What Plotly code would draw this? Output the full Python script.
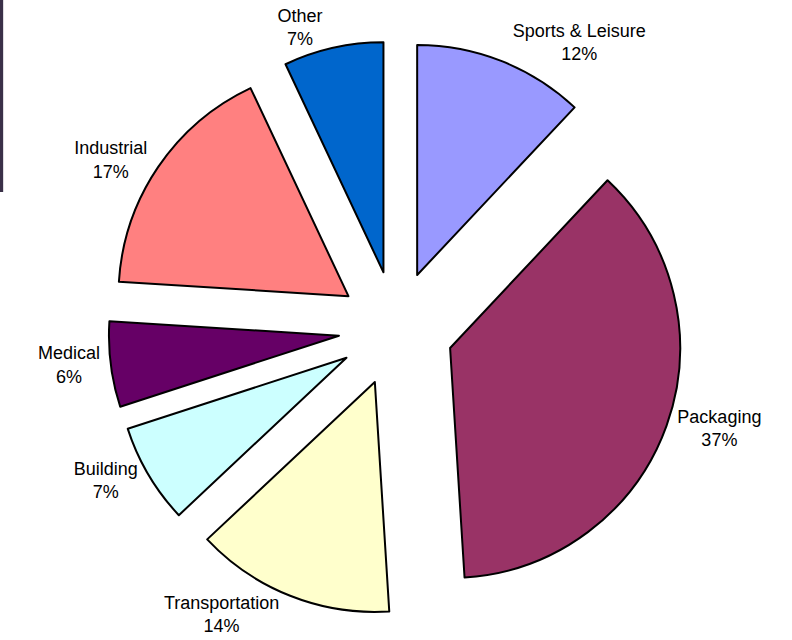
import plotly.graph_objects as go

labels = ["Sports & Leisure", "Packaging", "Transportation", "Building",
          "Medical", "Industrial", "Other"]
values = [12, 37, 14, 7, 6, 17, 7]
colors = ["#9999FF", "#993366", "#FFFFCC", "#CCFFFF", "#660066", "#FF8080", "#0066CC"]

fig = go.Figure(go.Pie(
    labels=labels,
    values=values,
    sort=False,
    direction="clockwise",
    rotation=0,
    pull=[0.25] * len(values),
    marker=dict(colors=colors, line=dict(color="#000000", width=2)),
    textposition="outside",
    automargin=False,
    texttemplate="%{label}<br>%{percent:.0%}",
    textfont=dict(family="Liberation Sans, Arial, sans-serif", size=18, color="#000000"),
    showlegend=False,
    hoverinfo="label+percent",
    domain=dict(x=[0.137, 0.863], y=[0.0375, 0.936]),
))

fig.update_layout(
    width=792, height=640,
    margin=dict(l=0, r=0, t=0, b=0, autoexpand=False),
    paper_bgcolor="#FFFFFF",
    plot_bgcolor="#FFFFFF",
    shapes=[dict(type="rect", xref="paper", yref="paper", x0=0, x1=0.004, y0=0.70, y1=1.0,
                 fillcolor="#3a3048", line=dict(width=0), layer="below")],
)

fig.write_html("out.html", config={"displayModeBar": False},
               post_script="document.body.style.margin='0';")
